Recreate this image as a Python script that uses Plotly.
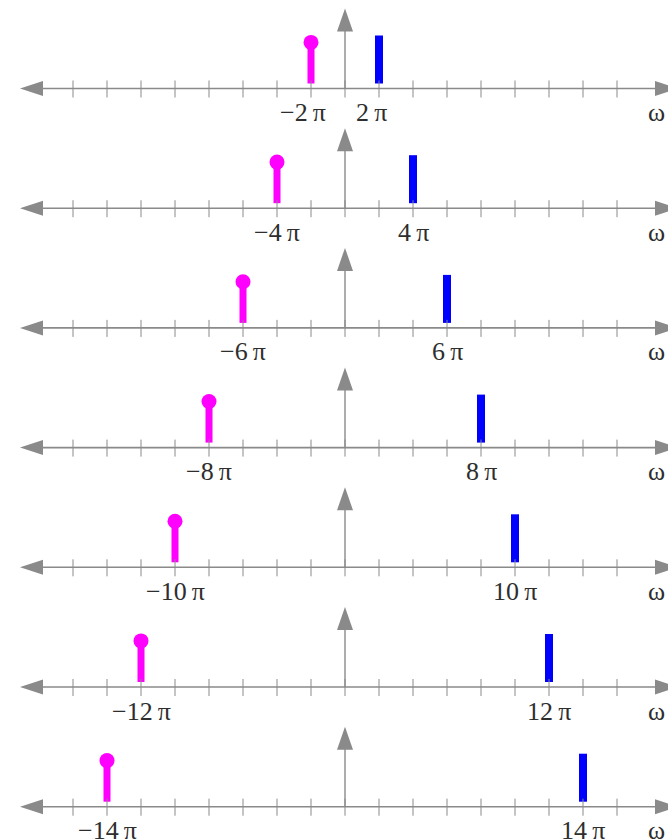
import plotly.graph_objects as go

# ---- data (frequencies in units of pi) ----
k_values = [1, 2, 3, 4, 5, 6, 7]
pos_freq = [2, 4, 6, 8, 10, 12, 14]          # blue impulses at +2πk
neg_freq = [-2, -4, -6, -8, -10, -12, -14]   # magenta impulses at -2πk
blue_amp = [1.0, 1.0, 1.0, 1.0, 1.0, 1.0, 1.0]
magenta_amp = [0.87, 0.87, 0.87, 0.87, 0.87, 0.87, 0.87]
pos_labels = ["2\u2009π", "4\u2009π", "6\u2009π", "8\u2009π", "10\u2009π", "12\u2009π", "14\u2009π"]
neg_labels = ["−2\u2009π", "−4\u2009π", "−6\u2009π", "−8\u2009π", "−10\u2009π", "−12\u2009π", "−14\u2009π"]
tick_positions = list(range(-16, 17, 2))
axis_label = "ω"

# ---- layout constants ----
W, H = 668, 840
PX = 17.0            # pixels per unit of pi
AMP = 53.0           # pixels per unit amplitude
GAP = 5.0            # gap between stem and axis
CX = 345.0           # pixel of the vertical axis
X0 = -CX / PX
X1 = (W - CX) / PX
row_base = [H - (88.5 + 119.7 * i) for i in range(len(k_values))]

GRAY = "#8a8a8a"
TXT = "#2e2e2e"
FONT = "Liberation Serif"
FS = 26

fig = go.Figure()

shapes = []
annotations = []
tick_x, tick_y = [], []
for i, b in enumerate(row_base):
    # horizontal axis line
    shapes.append(dict(type="line", xref="x", yref="y", x0=-17.8, x1=18.3, y0=b, y1=b,
                       line=dict(color=GRAY, width=1.6), layer="below"))
    # left arrowhead
    lt, lb = (20 - CX) / PX, (43 - CX) / PX
    shapes.append(dict(type="path", xref="x", yref="y",
                       path=f"M {lt} {b} L {lb} {b+7.5} L {lb} {b-7.5} Z",
                       fillcolor=GRAY, line=dict(width=0), layer="below"))
    # right arrowhead
    rt, rb = (678 - CX) / PX, (655 - CX) / PX
    shapes.append(dict(type="path", xref="x", yref="y",
                       path=f"M {rt} {b} L {rb} {b+7.5} L {rb} {b-7.5} Z",
                       fillcolor=GRAY, line=dict(width=0), layer="below"))
    # vertical axis
    shapes.append(dict(type="line", xref="x", yref="y", x0=0, x1=0, y0=b, y1=b + 58,
                       line=dict(color=GRAY, width=1.4), layer="below"))
    hw = 8 / PX
    shapes.append(dict(type="path", xref="x", yref="y",
                       path=f"M 0 {b+80} L {hw} {b+57} L {-hw} {b+57} Z",
                       fillcolor=GRAY, line=dict(width=0), layer="below"))
    for t in tick_positions:
        tick_x += [t, t, None]
        tick_y += [b - 9, b + 8, None]
    # labels
    xs = -8 if i == 0 else 0
    annotations.append(dict(x=neg_freq[i], y=b - 24, xref="x", yref="y", text=neg_labels[i],
                            showarrow=False, xshift=xs, font=dict(family=FONT, size=FS, color=TXT)))
    annotations.append(dict(x=pos_freq[i], y=b - 24, xref="x", yref="y", text=pos_labels[i],
                            showarrow=False, xshift=xs, font=dict(family=FONT, size=FS, color=TXT)))
    annotations.append(dict(x=656 / W, y=b - 24, xref="paper", yref="y",
                            text=axis_label, showarrow=False, xanchor="center",
                            font=dict(family=FONT, size=FS, color=TXT)))

fig.add_trace(go.Scatter(x=tick_x, y=tick_y, mode="lines",
                         line=dict(color=GRAY, width=1), hoverinfo="skip"))

fig.add_trace(go.Bar(x=pos_freq, y=[a * AMP - GAP for a in blue_amp],
                     base=[b + GAP for b in row_base], width=8 / PX,
                     marker=dict(color="#0000FF", line=dict(width=0))))
fig.add_trace(go.Bar(x=neg_freq, y=[a * AMP - GAP for a in magenta_amp],
                     base=[b + GAP for b in row_base], width=7 / PX,
                     marker=dict(color="#FF00FF", line=dict(width=0))))
fig.add_trace(go.Scatter(x=neg_freq, y=[b + a * AMP for a, b in zip(magenta_amp, row_base)],
                         mode="markers", marker=dict(color="#FF00FF", size=15, line=dict(width=0))))

fig.update_layout(
    width=W, height=H, margin=dict(l=0, r=0, t=0, b=0),
    paper_bgcolor="white", plot_bgcolor="white", showlegend=False,
    barmode="overlay",
    xaxis=dict(range=[X0, X1], visible=False, fixedrange=True),
    yaxis=dict(range=[0, H], visible=False, fixedrange=True),
    shapes=shapes, annotations=annotations,
)

fig.write_html("out.html", config={"displayModeBar": False},
               post_script="document.body.style.margin='0';document.body.style.overflow='hidden';")
